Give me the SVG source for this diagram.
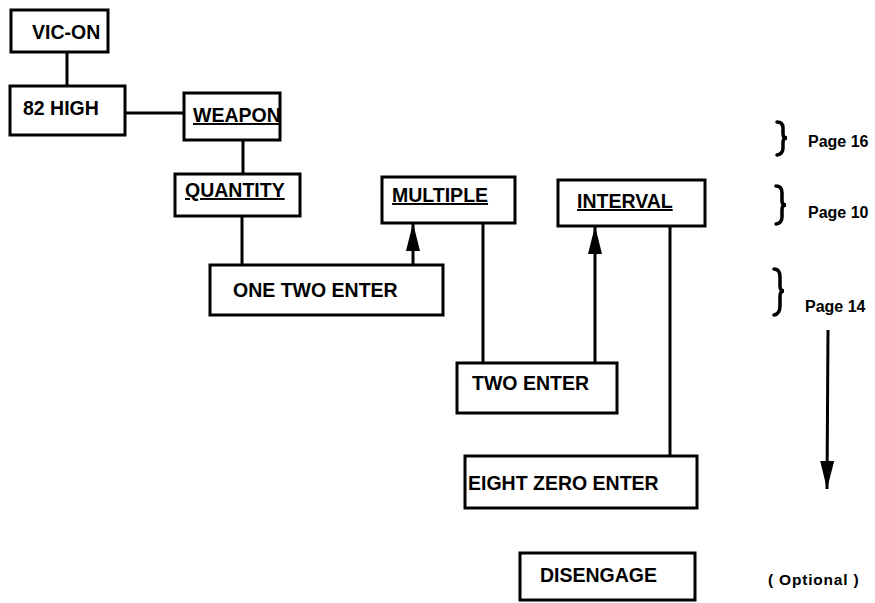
<svg xmlns="http://www.w3.org/2000/svg" width="875" height="603" viewBox="0 0 875 603">
<defs>
<style>
.box{fill:#fff;stroke:#000;stroke-width:3}
.t{font-family:"Liberation Sans",Arial,sans-serif;font-weight:bold;font-size:19.5px;fill:#000}
.u{text-decoration:underline}
.s{font-family:"Liberation Sans",Arial,sans-serif;font-weight:bold;font-size:16px;fill:#000}
.ln{stroke:#000;stroke-width:3;fill:none}
.br{stroke:#000;stroke-width:3.5;fill:none;stroke-linecap:round}
</style>
<marker id="ahb" viewBox="0 0 28 16" refX="28" refY="8" markerWidth="28" markerHeight="16" markerUnits="userSpaceOnUse" orient="auto">
<path d="M0,1 L28,8 L0,15 Z" fill="#000"/>
</marker>
</defs>
<g id="connectors">
<line class="ln" x1="67" y1="52" x2="67" y2="86"/>
<line class="ln" x1="125" y1="113" x2="184" y2="113"/>
<line class="ln" x1="243" y1="140" x2="243" y2="174"/>
<line class="ln" x1="242" y1="216" x2="242" y2="265"/>
<line class="ln" x1="413" y1="265" x2="413" y2="223" marker-end="url(#ahb)"/>
<line class="ln" x1="483" y1="223" x2="483" y2="363"/>
<line class="ln" x1="595" y1="363" x2="595" y2="226" marker-end="url(#ahb)"/>
<line class="ln" x1="670" y1="226" x2="670" y2="456"/>
<line class="ln" x1="828" y1="330" x2="827" y2="489" marker-end="url(#ahb)"/>
</g>
<g id="vic-on"><rect class="box" x="11" y="10" width="97" height="42"/><text class="t" x="32" y="39">VIC-ON</text></g>
<g id="82-high"><rect class="box" x="10" y="86" width="115" height="49"/><text class="t" x="23" y="115">82 HIGH</text></g>
<g id="weapon"><rect class="box" x="184" y="93" width="96" height="47"/><text class="t u" x="193" y="122">WEAPON</text></g>
<g id="quantity"><rect class="box" x="175" y="174" width="125" height="42"/><text class="t u" x="185" y="197">QUANTITY</text></g>
<g id="multiple"><rect class="box" x="382" y="177" width="133" height="46"/><text class="t u" x="392" y="202">MULTIPLE</text></g>
<g id="interval"><rect class="box" x="558" y="180" width="147" height="46"/><text class="t u" x="577" y="208">INTERVAL</text></g>
<g id="one-two-enter"><rect class="box" x="210" y="265" width="233" height="50"/><text class="t" x="233" y="297">ONE TWO ENTER</text></g>
<g id="two-enter"><rect class="box" x="457" y="363" width="160" height="50"/><text class="t" x="472" y="390">TWO ENTER</text></g>
<g id="eight-zero-enter"><rect class="box" x="465" y="456" width="232" height="52"/><text class="t" x="468" y="490">EIGHT ZERO ENTER</text></g>
<g id="disengage"><rect class="box" x="520" y="553" width="175" height="47"/><text class="t" x="540" y="582">DISENGAGE</text></g>
<g id="labels">
<path class="br" d="M777,122 Q783,122 783,128 L783,134 Q783,138 787,138 Q783,138 783,142 L783,148 Q783,154 777,155"/>
<text class="s" x="808" y="147">Page 16</text>
<path class="br" d="M776,186 Q782,186 782,193 L782,201 Q782,205 786,205 Q782,205 782,209 L782,217 Q782,223 776,224"/>
<text class="s" x="808" y="218">Page 10</text>
<path class="br" d="M774,269 Q780,269 780,277 L780,286 Q780,291 784,291 Q780,291 780,296 L780,306 Q780,314 774,315"/>
<text class="s" x="805" y="312">Page 14</text>
<text class="s" x="768" y="585" style="font-size:15.5px;letter-spacing:0.8px">( Optional )</text>
</g>
</svg>
